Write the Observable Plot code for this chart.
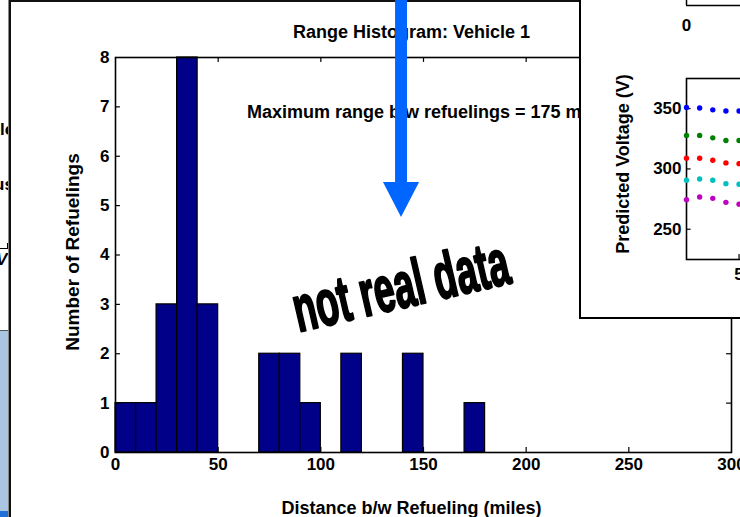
<!DOCTYPE html>
<html><head><meta charset="utf-8">
<script src="https://cdn.jsdelivr.net/npm/d3@7"></script>
<script src="https://cdn.jsdelivr.net/npm/@observablehq/plot@0.6"></script>
<style>
html,body{margin:0;padding:0;background:#fff;}
#wrap{position:relative;width:740px;height:517px;overflow:hidden;font-family:"Liberation Sans",Arial,sans-serif;background:#fff;}
#bgfig{position:absolute;left:0;top:0;width:10px;height:517px;overflow:hidden;}
#bgfig .t{position:absolute;font-weight:bold;font-size:17px;white-space:nowrap;}
#mainborder{position:absolute;left:9px;top:0;width:740px;height:517px;border-left:2px solid #111;border-top:2px solid #111;box-shadow:-1px 0 0 #888;}
#main{position:absolute;left:0;top:0;}
#inset{position:absolute;left:579px;top:0;width:161px;height:317px;border-left:2px solid #000;border-bottom:2px solid #000;background:#fff;overflow:hidden;}
#wrap svg{max-width:none !important;}
</style></head>
<body>
<div id="wrap">
  <div id="bgfig">
    <div class="t" style="left:0px;top:120px;">le</div>
    <div class="t" style="left:-6px;top:175px;">us</div>
    <div style="position:absolute;left:0;top:248px;width:10px;height:1px;background:#000;"></div>
    <div style="position:absolute;left:7px;top:243px;width:1px;height:5px;background:#000;"></div>
    <div class="t" style="left:-4px;top:250px;font-style:italic;">V</div>
    <div style="position:absolute;left:0;top:330px;width:10px;height:187px;background:#a9c5e1;border-top:1px solid #555;"></div>
    <div style="position:absolute;left:0;top:511px;width:10px;height:6px;background:#1f6fd8;"></div>
  </div>
  <div id="mainborder"></div>
  <div id="main"></div>
  <div id="inset"></div>
</div>
<script>
// ---- Main histogram data ----
const binStart = [0,10,20,30,40,50,60,70,80,90,100,110,120,130,140,150,160,170];
const counts   = [1,1,3,8,3,0,0,2,2,1,0,2,0,0,2,0,0,1];
const binWidth = 10;
const xTicks = [0,50,100,150,200,250,300];
const yTicks = [0,1,2,3,4,5,6,7,8];
const titleText = "Range Histogram: Vehicle 1";
const noteText = "Maximum range b/w refuelings = 175 miles";
const xLabel = "Distance b/w Refueling (miles)";
const yLabel = "Number of Refuelings";
const stampText = "not real data";

// ---- Inset (predicted voltage) data ----
const insetX = [1,2,3,4,5];
const seriesNames = ["s1","s2","s3","s4","s5"];
const seriesColors = ["#0000ff","#008000","#ff0000","#00bfbf","#bf00bf"];
const voltBlue    = [351,350.5,349,348,348];
const voltGreen   = [327.8,327.8,325.8,323.6,323.6];
const voltRed     = [308.9,308.9,307.2,305,304.4];
const voltCyan    = [290.6,291.7,290.6,287.8,287.3];
const voltMagenta = [274.4,276.7,275.6,272.3,270.8];
const insetYTicks = [250,300,350];
const insetXTicks = [5];
const insetYLabel = "Predicted Voltage (V)";

const bars = binStart.map((s,i)=>({x1:s, x2:s+binWidth, y:counts[i]})).filter(d=>d.y>0);
const bold = {fontWeight:"bold"};

const chart = Plot.plot({
  width:740, height:517,
  marginLeft:115, marginRight:9, marginTop:57, marginBottom:65,
  style:{fontFamily:"'Liberation Sans', Arial, sans-serif", background:"transparent", color:"#000", overflow:"visible"},
  x:{domain:[0,300]},
  y:{domain:[0,8]},
  marks:[
    Plot.rectY(bars,{x1:"x1",x2:"x2",y:"y",fill:"#000088",stroke:"#000",strokeWidth:1.2,inset:0}),
    Plot.ruleX(xTicks.slice(1,-1),{x:d=>d,y1:0,y2:0.1,stroke:"#000",strokeWidth:1.2}),
    Plot.ruleX(xTicks.slice(1,-1),{x:d=>d,y1:8,y2:7.9,stroke:"#000",strokeWidth:1.2}),
    Plot.ruleY(yTicks.slice(1,-1),{y:d=>d,x1:0,x2:2.4,stroke:"#000",strokeWidth:1.2}),
    Plot.ruleY(yTicks.slice(1,-1),{y:d=>d,x1:297.6,x2:300,stroke:"#000",strokeWidth:1.2}),
    Plot.frame({stroke:"#000",strokeWidth:1.6}),
    Plot.axisX(xTicks,{tickSize:0,tickPadding:5,fontSize:17,fontWeight:"bold",label:null}),
    Plot.axisY(yTicks,{tickSize:0,tickPadding:6,fontSize:17,fontWeight:"bold",label:null}),
    Plot.text([titleText],{text:d=>d,frameAnchor:"top",textAnchor:"middle",dx:-12,dy:-32,fontSize:18,...bold}),
    Plot.text([xLabel],{text:d=>d,frameAnchor:"bottom",textAnchor:"middle",dx:-12,dy:61,fontSize:18,...bold}),
    Plot.text([yLabel],{text:d=>d,frameAnchor:"left",textAnchor:"middle",dx:-43,dy:-3,rotate:-90,fontSize:19,...bold}),
    Plot.text([noteText],{text:d=>d,x:()=>64,y:()=>6.9,textAnchor:"start",fontSize:18,...bold}),
    Plot.text([stampText],{text:d=>d,x:()=>139,y:()=>3.35,rotate:-13,fontSize:37,fontFamily:"'Liberation Sans Narrow','Liberation Sans',Arial",fontWeight:"bold",fill:"#000",stroke:"#000",strokeWidth:1.3})
  ]
});
document.getElementById("main").appendChild(chart);

// stretch the word-art stamp vertically
d3.select(chart).selectAll("text").filter(function(){return this.textContent===stampText;}).each(function(){
  const t = this.getAttribute("transform") || "";
  this.setAttribute("transform", t + " scale(1,1.75)");
});

// blue annotation arrow, positioned through the chart's scales
const arrow = {x:139.3, yTop:9.3, yBase:5.47, yTip:4.76, halfWidthData:8.8, shaftHalfData:2.9};
const sx = chart.scale("x"), sy = chart.scale("y");
const ax = sx.apply(arrow.x);
const hw = sx.apply(arrow.x+arrow.halfWidthData)-ax;
const sw = sx.apply(arrow.x+arrow.shaftHalfData)-ax;
const yb = sy.apply(arrow.yBase), yt = sy.apply(arrow.yTop), ytip = sy.apply(arrow.yTip);
d3.select(chart).append("polygon")
  .attr("points", [[ax-sw,yt],[ax+sw,yt],[ax+sw,yb],[ax+hw,yb],[ax,ytip],[ax-hw,yb],[ax-sw,yb]].map(p=>p.join(",")).join(" "))
  .attr("fill","#0066ff");

// ---- Inset plot ----
const allV = [voltBlue,voltGreen,voltRed,voltCyan,voltMagenta];
const pts = [];
allV.forEach((arr,si)=>arr.forEach((v,i)=>pts.push({x:insetX[i], v, s:seriesNames[si]})));
const inset = Plot.plot({
  width:172, height:317,
  marginLeft:105, marginRight:0, marginTop:78, marginBottom:58,
  style:{fontFamily:"'Liberation Sans', Arial, sans-serif", background:"transparent", color:"#000", overflow:"visible"},
  x:{domain:[1,6.1]},
  y:{domain:[224.9,375]},
  color:{domain:seriesNames, range:seriesColors},
  marks:[
    Plot.frame({stroke:"#000",strokeWidth:1.6}),
    Plot.ruleY(insetYTicks,{y:d=>d,x1:1,x2:1.35,stroke:"#000",strokeWidth:1.2}),
    Plot.ruleX(insetXTicks,{x:d=>d,y1:224.9,y2:229,stroke:"#000",strokeWidth:1.2}),
    Plot.dot(pts,{x:"x",y:"v",fill:"s",r:2.7,stroke:null}),
    Plot.axisY(insetYTicks,{tickSize:0,tickPadding:5,fontSize:17,fontWeight:"bold",label:null}),
    Plot.axisX(insetXTicks,{tickSize:0,tickPadding:8,fontSize:17,fontWeight:"bold",label:null}),
    Plot.text([insetYLabel],{text:d=>d,frameAnchor:"left",textAnchor:"middle",dx:-63,dy:-5,rotate:-90,fontSize:18,...bold}),
    Plot.text(["0"],{text:d=>d,frameAnchor:"top-left",textAnchor:"middle",dy:-60,fontSize:17,...bold}),
    Plot.ruleY([435.5],{x1:1,x2:6.1,stroke:"#000",strokeWidth:1.5}),
    Plot.ruleX([1],{y1:435.5,y2:445,stroke:"#000",strokeWidth:1.5})
  ]
});
document.getElementById("inset").appendChild(inset);
</script>
</body></html>
